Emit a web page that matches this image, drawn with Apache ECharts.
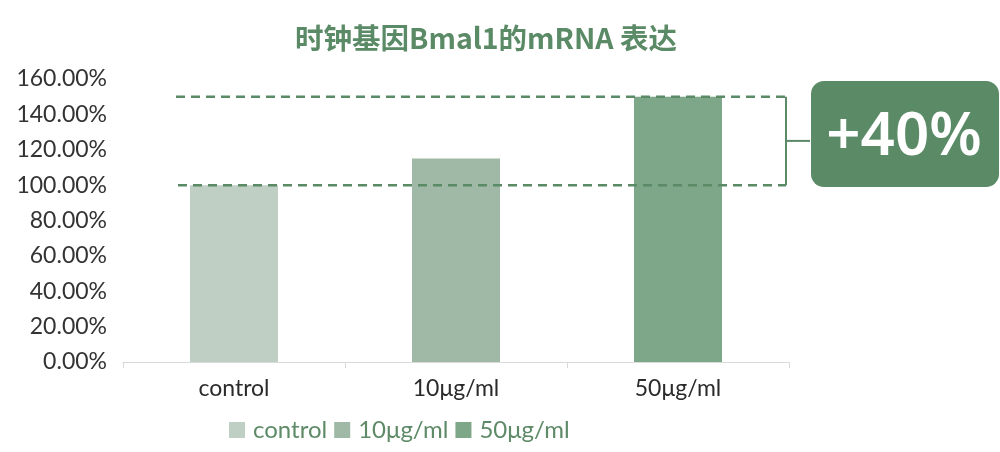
<!DOCTYPE html>
<html><head><meta charset="utf-8">
<script src="https://cdn.jsdelivr.net/npm/echarts@6/dist/echarts.min.js"></script>
<style>html,body{margin:0;padding:0;background:#fff}#c{width:1000px;height:452px}</style>
</head><body><div id="c"></div>
<script>
const title = '时钟基因Bmal1的mRNA 表达';
const categories = ['control', '10μg/ml', '50μg/ml'];
const values = [1.00, 1.15, 1.50];
const colors = ['#bfcfc3', '#a0b9a6', '#7ea688'];
const yTicks = { min: 0, max: 1.6, interval: 0.2 };
const compareFrom = 1.00, compareTo = 1.50;
const badgeText = '+40%';

const green = '#5b8a66';
const chart = echarts.init(document.getElementById('c'));
const series = categories.map((name, i) => ({
  name, type: 'bar', stack: 'all', barWidth: 88,
  itemStyle: { color: colors[i] },
  data: categories.map((c, j) => j === i ? values[i] : '-')
}));
chart.setOption({
  animation: false,
  title: { text: title, left: 481, top: 19, textAlign: 'center',
    textStyle: { fontFamily: 'Noto Sans CJK SC', fontWeight: 'bold', fontSize: 28.5, color: green } },
  grid: { left: 123, right: 211, top: 79, bottom: 90 },
  legend: { data: categories, left: 224, top: 413, itemWidth: 16, itemHeight: 16, itemGap: 7,
    icon: 'rect', textStyle: { fontFamily: 'Lato', fontSize: 24, color: '#5e8a68', padding: [0,0,0,3] } },
  xAxis: { type: 'category', data: categories,
    axisLine: { lineStyle: { color: '#d9d9d9' } },
    axisTick: { show: true, length: 6, lineStyle: { color: '#d9d9d9' } },
    axisLabel: { fontFamily: 'Lato', fontSize: 23, color: '#2b2b2b', margin: 15 } },
  yAxis: { type: 'value', min: yTicks.min, max: yTicks.max, interval: yTicks.interval,
    splitLine: { show: false }, axisLine: { show: false }, axisTick: { show: false },
    axisLabel: { fontFamily: 'Lato', fontSize: 23, color: '#333', margin: 16,
      formatter: v => (v * 100).toFixed(2) + '%' } },
  series
});
const yLo = chart.convertToPixel({ yAxisIndex: 0 }, compareFrom);
const yHi = chart.convertToPixel({ yAxisIndex: 0 }, compareTo);
const x0 = 176, x1 = 786;
const dash = { stroke: green, lineWidth: 2.5, lineDash: [9, 6] };
chart.setOption({ graphic: [
  { type: 'line', shape: { x1: x0, y1: yHi, x2: x1, y2: yHi }, style: dash, z: 10 },
  { type: 'line', shape: { x1: x0 + 2, y1: yLo, x2: x1, y2: yLo }, style: dash, z: 10 },
  { type: 'line', shape: { x1: x1, y1: yHi, x2: x1, y2: yLo }, style: { stroke: green, lineWidth: 2 }, z: 10 },
  { type: 'line', shape: { x1: x1, y1: (yHi + yLo) / 2, x2: 810, y2: (yHi + yLo) / 2 }, style: { stroke: green, lineWidth: 2 }, z: 10 },
  { type: 'rect', shape: { x: 811, y: 81, width: 188, height: 106, r: 13 }, style: { fill: green }, z: 10 },
  { type: 'text', x: 904, y: 138, style: { text: badgeText, fill: '#fff', font: '600 60px "Noto Sans"', align: 'center', verticalAlign: 'middle' }, z: 11 }
]});
</script></body></html>
